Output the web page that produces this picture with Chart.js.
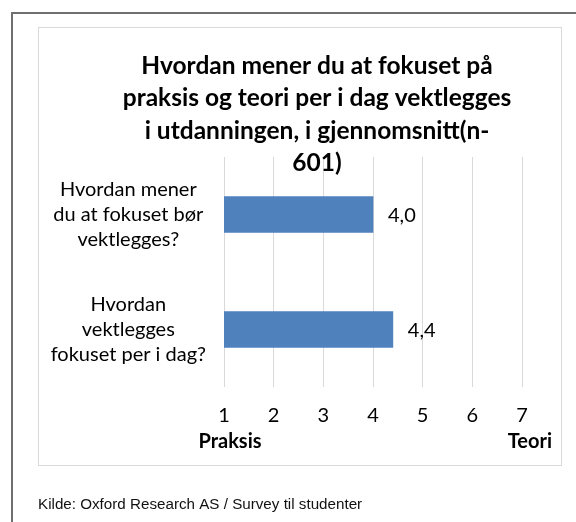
<!DOCTYPE html>
<html>
<head>
<meta charset="utf-8">
<script src="https://cdn.jsdelivr.net/npm/chart.js"></script>
<style>
  html, body { margin: 0; padding: 0; background: #fff; }
  #wrap { width: 576px; height: 522px; }
</style>
</head>
<body>
<div id="wrap"><canvas id="myBarChart" width="576" height="522"></canvas></div>
<script>
// data
var kategorier = [
  ["Hvordan mener", "du at fokuset bør", "vektlegges?"],
  ["Hvordan", "vektlegges", "fokuset per i dag?"]
];
var gjennomsnitt = [4.0, 4.4];
var skalaTicks = [1, 2, 3, 4, 5, 6, 7];
var skalaEnder = ["Praksis", "Teori"];
var tittel = [
  "Hvordan mener du at fokuset på",
  "praksis og teori per i dag vektlegges",
  "i utdanningen, i gjennomsnitt(n-",
  "601)"
];
var kilde = "Kilde: Oxford Research AS / Survey til studenter";

var fontFamily = "Lato, 'Open Sans', sans-serif";

// rammer, tittel, verdier og kilde
var tegnPlugin = {
  id: "tegn",
  beforeDraw: function (chart) {
    var c = chart.ctx;
    c.save();
    c.fillStyle = "#ffffff";
    c.fillRect(0, 0, chart.width, chart.height);
    c.strokeStyle = "#707070";
    c.lineWidth = 2;
    c.beginPath();
    c.moveTo(12, chart.height);
    c.lineTo(12, 13);
    c.lineTo(chart.width, 13);
    c.stroke();
    c.strokeStyle = "#d9d9d9";
    c.lineWidth = 1;
    c.strokeRect(38.5, 27.5, 523, 438);
    c.restore();
  },
  afterDraw: function (chart) {
    var c = chart.ctx;
    var x = chart.scales.x;
    c.save();
    c.fillStyle = "#000";
    c.textBaseline = "middle";

    // tittel
    c.font = "bold 24.5px " + fontFamily;
    c.textAlign = "center";
    tittel.forEach(function (linje, i) {
      c.fillText(linje, 317, 66 + i * 32.5);
    });

    // verdier
    c.font = "20px " + fontFamily;
    c.textAlign = "left";
    var meta = chart.getDatasetMeta(0);
    meta.data.forEach(function (bar, i) {
      var tekst = gjennomsnitt[i].toFixed(1).replace(".", ",");
      c.fillText(tekst, bar.x + 15, bar.y + 1);
    });

    // Praksis / Teori
    c.font = "bold 20px " + fontFamily;
    c.textAlign = "center";
    c.fillText(skalaEnder[0], x.getPixelForValue(skalaTicks[0]) + 6, 442);
    c.textAlign = "right";
    c.fillText(skalaEnder[1], x.getPixelForValue(skalaTicks[skalaTicks.length - 1]) + 30, 442);

    // kilde
    c.font = "15.2px 'Liberation Sans', Arial, sans-serif";
    c.textAlign = "left";
    c.fillStyle = "#111";
    c.fillText(kilde, 38, 505);
    c.restore();
  }
};

var ctx = document.getElementById("myBarChart").getContext("2d");
var barChart = new Chart(ctx, {
  type: "bar",
  data: {
    labels: kategorier,
    datasets: [
      {
        data: gjennomsnitt,
        backgroundColor: "#4f81bd",
        borderWidth: 0,
        barThickness: 36
      }
    ]
  },
  options: {
    indexAxis: "y",
    responsive: false,
    animation: false,
    layout: {
      padding: { top: 157, right: 54, bottom: 0, left: 0 }
    },
    plugins: {
      legend: { display: false },
      title: { display: false },
      tooltip: { enabled: false }
    },
    scales: {
      x: {
        min: skalaTicks[0],
        max: skalaTicks[skalaTicks.length - 1],
        afterFit: function (scale) { scale.height = 135; },
        afterBuildTicks: function (scale) {
          scale.ticks = skalaTicks.map(function (v) { return { value: v }; });
        },
        grid: { color: "#d9d9d9", lineWidth: 1, drawTicks: false },
        border: { display: false },
        ticks: {
          color: "#000",
          padding: 17,
          font: { family: fontFamily, size: 20 }
        }
      },
      y: {
        afterFit: function (scale) { scale.width = 224; },
        grid: { display: false, drawTicks: false },
        border: { display: false },
        ticks: {
          color: "#000",
          crossAlign: "center",
          padding: 18,
          font: { family: fontFamily, size: 20, lineHeight: 1.25 }
        }
      }
    }
  },
  plugins: [tegnPlugin]
});
</script>
</body>
</html>
